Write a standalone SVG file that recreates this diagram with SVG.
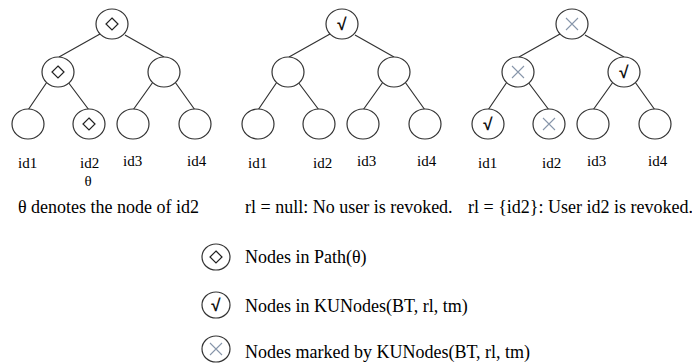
<svg xmlns="http://www.w3.org/2000/svg" width="692" height="364" viewBox="0 0 692 364">
<style>
.n{fill:#fff;stroke:#333;stroke-width:1.2}
.e{stroke:#333;stroke-width:1.2;fill:none}
.d{fill:none;stroke:#222;stroke-width:1.2}
.x{stroke:#8796aa;stroke-width:1.1;fill:none}
.ck{font-family:"Liberation Sans","DejaVu Sans",sans-serif;font-size:17px;font-weight:bold;fill:#111;text-anchor:middle}
.lb{font-family:"Liberation Serif","Times New Roman",serif;font-size:15px;fill:#000}
.cap{font-family:"Liberation Serif","Times New Roman",serif;font-size:18px;fill:#000}
</style>
<defs>
<ellipse id="c" cx="0" cy="0" rx="16" ry="15" class="n"/>
<path id="dm" d="M0,-6 L6,0 L0,6 L-6,0 Z" class="d"/>
<path id="xx" d="M-6,-6 L6,6 M6,-6 L-6,6" class="x"/>
<text id="ck" x="0" y="6" class="ck">√</text>
</defs>

<g id="connectors">
<g transform="translate(0,0)">
<path class="e" d="M100,34 L59,57 M125,35 L164,57 M47,82 L28,110 M68,82 L89,110 M153,82 L133,110 M175,82 L195,110"/>
</g>
<g transform="translate(230,0)">
<path class="e" d="M100,34 L59,57 M125,35 L164,57 M47,82 L28,110 M68,82 L89,110 M153,82 L133,110 M175,82 L195,110"/>
</g>
<g transform="translate(460,0)">
<path class="e" d="M100,34 L59,57 M125,35 L164,57 M47,82 L28,110 M68,82 L89,110 M153,82 L133,110 M175,82 L195,110"/>
</g>
</g>

<!-- Tree 1 -->
<g id="t1-root" transform="translate(112,24)"><use href="#c"/><use href="#dm"/></g>
<g id="t1-l" transform="translate(58,72)"><use href="#c"/><use href="#dm"/></g>
<g id="t1-r" transform="translate(164,72)"><use href="#c"/></g>
<g id="t1-id1" transform="translate(28,124)"><use href="#c"/></g>
<g id="t1-id2" transform="translate(89,124)"><use href="#c"/><use href="#dm"/></g>
<g id="t1-id3" transform="translate(133,124)"><use href="#c"/></g>
<g id="t1-id4" transform="translate(195,124)"><use href="#c"/></g>

<!-- Tree 2 -->
<g id="t2-root" transform="translate(342,24)"><use href="#c"/><use href="#ck"/></g>
<g id="t2-l" transform="translate(288,72)"><use href="#c"/></g>
<g id="t2-r" transform="translate(394,72)"><use href="#c"/></g>
<g id="t2-id1" transform="translate(258,124)"><use href="#c"/></g>
<g id="t2-id2" transform="translate(319,124)"><use href="#c"/></g>
<g id="t2-id3" transform="translate(363,124)"><use href="#c"/></g>
<g id="t2-id4" transform="translate(425,124)"><use href="#c"/></g>

<!-- Tree 3 -->
<g id="t3-root" transform="translate(572,24)"><use href="#c"/><use href="#xx"/></g>
<g id="t3-l" transform="translate(518,72)"><use href="#c"/><use href="#xx"/></g>
<g id="t3-r" transform="translate(624,72)"><use href="#c"/><use href="#ck"/></g>
<g id="t3-id1" transform="translate(488,124)"><use href="#c"/><use href="#ck"/></g>
<g id="t3-id2" transform="translate(549,124)"><use href="#c"/><use href="#xx"/></g>
<g id="t3-id3" transform="translate(593,124)"><use href="#c"/></g>
<g id="t3-id4" transform="translate(655,124)"><use href="#c"/></g>

<!-- labels -->
<g id="labels">
<text class="lb" x="18" y="168">id1</text>
<text class="lb" x="80" y="168">id2</text>
<text class="lb" x="123" y="166">id3</text>
<text class="lb" x="187" y="166">id4</text>
<text class="lb" x="88" y="186" text-anchor="middle">θ</text>
<text class="lb" x="248" y="168">id1</text>
<text class="lb" x="313" y="168">id2</text>
<text class="lb" x="357" y="166">id3</text>
<text class="lb" x="417" y="166">id4</text>
<text class="lb" x="478" y="168">id1</text>
<text class="lb" x="542" y="168">id2</text>
<text class="lb" x="587" y="166">id3</text>
<text class="lb" x="648" y="166">id4</text>
<text class="cap" x="18" y="213">θ denotes the node of id2</text>
<text class="cap" x="245" y="213">rl = null: No user is revoked.</text>
<text class="cap" x="468" y="213">rl = {id2}: User id2 is revoked.</text>
</g>

<!-- legend -->
<g id="legend-path">
<ellipse cx="216" cy="257" rx="14" ry="13" class="n"/>
<path d="M216,251 L222,257 L216,263 L210,257 Z" class="d"/>
<text class="cap" x="245" y="263">Nodes in Path(θ)</text>
</g>
<g id="legend-ku">
<ellipse cx="216" cy="305" rx="14" ry="13" class="n"/>
<text x="216" y="311" class="ck">√</text>
<text class="cap" x="245" y="312">Nodes in KUNodes(BT, rl, tm)</text>
</g>
<g id="legend-marked">
<ellipse cx="216" cy="349" rx="14" ry="13" class="n"/>
<path d="M210,343 L222,355 M222,343 L210,355" class="x"/>
<text class="cap" x="245" y="358">Nodes marked by KUNodes(BT, rl, tm)</text>
</g>
</svg>
